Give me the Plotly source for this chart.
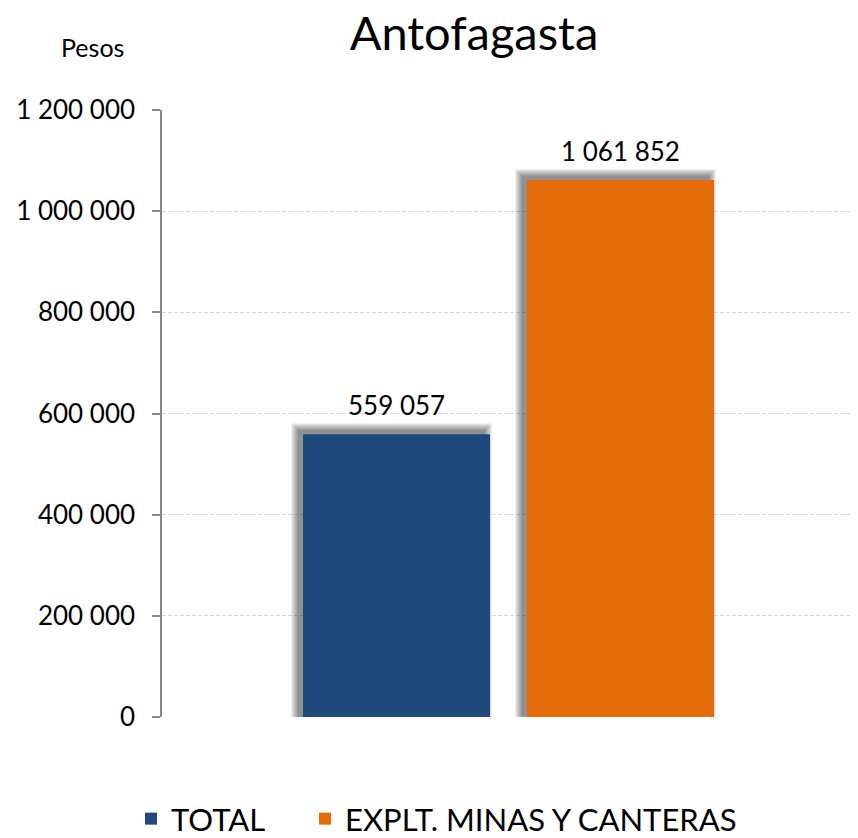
import plotly.graph_objects as go

# ---- data ----
title = "Antofagasta"
y_axis_label = "Pesos"
categories = ["TOTAL", "EXPLT. MINAS Y CANTERAS"]
values = [559057, 1061852]
colors = ["#1F497D", "#E36C09"]
tick_values = [0, 200000, 400000, 600000, 800000, 1000000, 1200000]
tick_labels = ["0", "200 000", "400 000", "600 000", "800 000", "1 000 000", "1 200 000"]

# ---- layout geometry (styles) ----
OFF = 8                      # page body margin of the html page
W, H = 858 - OFF, 838 - OFF
ML, MR, MT, MB = 162 - OFF, 5, 110 - OFF, 121
PW, PH = W - ML - MR, H - MT - MB
X_RANGE = [-1.047, 2.038]
Y_RANGE = [0, 1200000]
px_x = (X_RANGE[1] - X_RANGE[0]) / PW   # data units per px
px_y = (Y_RANGE[1] - Y_RANGE[0]) / PH
BAR_W = 0.835
FONT = "Lato"
LEGEND_LEFT_PX = [131, 305]


def fmt(v):
    return f"{v:,}".replace(",", " ")


def px_to_paper_x(px):
    return (px - 162) / PW


def px_to_paper_y(py):
    return (717 - py) / PH


fig = go.Figure()

# soft drop shadows (drawn first, behind the bars)
for cat, val in zip(categories, values):
    for k in range(8):
        w = BAR_W + 2 * k * px_x
        fig.add_trace(go.Bar(
            x=[cat], y=[val + (4 + k) * px_y],
            width=[w], offset=[-w / 2 - 5 * px_x],
            marker=dict(color="rgba(0,0,0,0.065)", line=dict(width=0)),
            showlegend=False, hoverinfo="skip",
        ))

legend_ids = ["legend", "legend2"]
for cat, val, col, lid in zip(categories, values, colors, legend_ids):
    fig.add_trace(go.Bar(
        x=[cat], y=[val], name=cat, legend=lid,
        width=[BAR_W], offset=[-BAR_W / 2],
        marker=dict(color=col, line=dict(width=0)),
    ))
    fig.add_annotation(
        x=cat, y=val, xref="x", yref="y", text=fmt(val),
        showarrow=False, yanchor="bottom", yshift=11,
        font=dict(family=FONT, size=26, color="#000000"),
    )

fig.add_annotation(
    x=px_to_paper_x(92), y=px_to_paper_y(47), xref="paper", yref="paper",
    text=y_axis_label, showarrow=False, xanchor="center", yanchor="middle",
    font=dict(family=FONT, size=25, color="#000000"),
)

legend_style = dict(orientation="h", xanchor="left",
                    y=px_to_paper_y(819), yanchor="middle",
                    font=dict(family=FONT, size=31, color="#000000"),
                    itemclick=False, itemdoubleclick=False)

fig.update_layout(
    width=W, height=H,
    margin=dict(l=ML, r=MR, t=MT, b=MB, pad=0, autoexpand=False),
    paper_bgcolor="white", plot_bgcolor="white",
    barmode="overlay",
    separators=", ",
    title=dict(text=title, x=(474 - OFF) / W, xanchor="center",
               y=1 - (34 - OFF) / H, yanchor="middle",
               font=dict(family=FONT, size=47, color="#000000")),
    font=dict(family=FONT, color="#000000"),
    xaxis=dict(range=X_RANGE, showticklabels=False, showgrid=False, zeroline=False,
               showline=False, ticks="", fixedrange=True),
    yaxis=dict(range=Y_RANGE, tickvals=tick_values, ticktext=tick_labels,
               showgrid=True, gridcolor="#D9D9D9", griddash="4px,2px", gridwidth=1,
               zeroline=False, showline=True, linecolor="#868686", linewidth=1.5,
               ticks="outside", ticklen=8, tickcolor="#868686", tickwidth=1.5,
               ticklabelstandoff=12,
               tickfont=dict(family=FONT, size=26, color="#000000")),
    legend=dict(x=px_to_paper_x(LEGEND_LEFT_PX[0]), **legend_style),
    legend2=dict(x=px_to_paper_x(LEGEND_LEFT_PX[1]), **legend_style),
    showlegend=True,
)

fig.write_html("out.html")
